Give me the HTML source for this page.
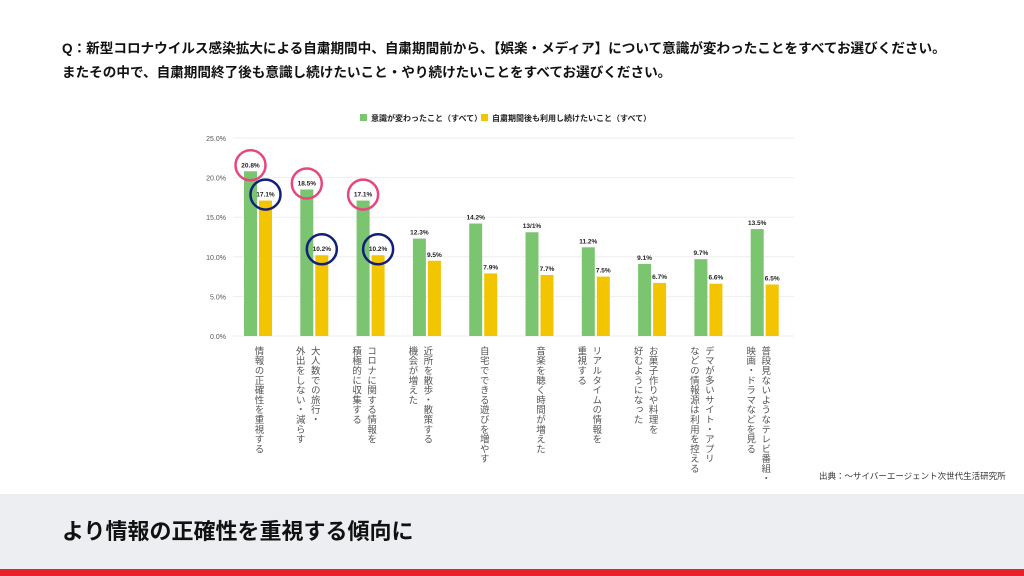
<!DOCTYPE html>
<html><head><meta charset="utf-8">
<style>
body{margin:0;width:1024px;height:576px;overflow:hidden;background:#fff;font-family:"Liberation Sans","Noto Sans CJK JP",sans-serif;position:relative}
.q{position:absolute;left:62px;top:37px;font-size:13.6px;font-weight:bold;line-height:24px;color:#111;white-space:nowrap}
.band{position:absolute;left:0;top:494px;width:1024px;height:75px;background:#eceef1}
.red{position:absolute;left:0;top:569px;width:1024px;height:7px;background:#e8202a}
.big{position:absolute;left:62px;top:514px;font-size:22px;font-weight:bold;color:#111}
.src{position:absolute;left:819px;top:470px;font-size:8.5px;color:#333}
svg{position:absolute;left:0;top:0}
</style></head><body>
<div class="q">Q：新型コロナウイルス感染拡大による自粛期間中、自粛期間前から、【娯楽・メディア】について意識が変わったことをすべてお選びください。<br>またその中で、自粛期間終了後も意識し続けたいこと・やり続けたいことをすべてお選びください。</div>
<svg id="chart" width="1024" height="576"></svg>
<div class="src">出典：〜サイバーエージェント次世代生活研究所</div>
<div class="band"></div>
<div class="big">より情報の正確性を重視する傾向に</div>
<div class="red"></div>
<script>
const categories=[["情報の正確性を重視する"],["大人数での旅行・","外出をしない・減らす"],["コロナに関する情報を","積極的に収集する"],["近所を散歩・散策する","機会が増えた"],["自宅でできる遊びを増やす"],["音楽を聴く時間が増えた"],["リアルタイムの情報を","重視する"],["お菓子作りや料理を","好むようになった"],["デマが多いサイト・アプリ","などの情報源は利用を控える"],["普段見ないようなテレビ番組・","映画・ドラマなどを見る"]];
const changed=[20.8,18.5,17.1,12.3,14.2,13.1,11.2,9.1,9.7,13.5];
const changedLabels=["20.8%","18.5%","17.1%","12.3%","14.2%","13/1%","11.2%","9.1%","9.7%","13.5%"];
const cont=[17.1,10.2,10.2,9.5,7.9,7.7,7.5,6.7,6.6,6.5];
const contLabels=["17.1%","10.2%","10.2%","9.5%","7.9%","7.7%","7.5%","6.7%","6.6%","6.5%"];
const ticks=[0,5,10,15,20,25];
const highlightGroups=[0,1,2];
const svg=document.getElementById('chart');
const NS='http://www.w3.org/2000/svg';
const y0=336,yTop=138,x0=233,x1=794;
const y=v=>y0-(v/25)*(y0-yTop);
const gx=i=>258+i*56.3;
function mk(t,a){const e=document.createElementNS(NS,t);for(const k in a)e.setAttribute(k,a[k]);svg.appendChild(e);return e;}
ticks.forEach(t=>{
 const l=mk('line',{x1:x0,x2:x1,y1:y(t),y2:y(t),stroke:'#eeeeee','stroke-width':1});
 
 
 const tx=mk('text',{x:226,y:y(t)+3,'font-size':7,'text-anchor':'end',fill:'#555'});
 tx.textContent=t.toFixed(1)+'%';
 
 
});
let r=mk('rect',{x:360,y:114,width:7,height:7,fill:'#7bc470'});


let lt=mk('text',{x:371,y:121,'font-size':8,'font-weight':'bold',fill:'#222'});lt.textContent='意識が変わったこと（すべて）';


r=mk('rect',{x:481,y:114,width:7,height:7,fill:'#f2c500'});


lt=mk('text',{x:492,y:121,'font-size':8,'font-weight':'bold',fill:'#222'});lt.textContent='自粛期間後も利用し続けたいこと（すべて）';


categories.forEach((c,i)=>{
 const cx=gx(i);
 const g=mk('rect',{x:cx-14,y:y(changed[i]),width:13,height:y0-y(changed[i]),fill:'#7bc470'});
 
 
 const b=mk('rect',{x:cx+1,y:y(cont[i]),width:13,height:y0-y(cont[i]),fill:'#f2c500'});
 
 
 let t=mk('text',{x:cx-7.5,y:y(changed[i])-4,'font-size':6.5,'font-weight':'bold','text-anchor':'middle',fill:'#222'});
 t.textContent=changedLabels[i];
 
 
 t=mk('text',{x:cx+7.5,y:y(cont[i])-4,'font-size':6.5,'font-weight':'bold','text-anchor':'middle',fill:'#222'});
 t.textContent=contLabels[i];
 
 
 c.forEach((line,j)=>{
  const lx=c.length===1?cx:cx-j*15;
  const tt=mk('text',{x:lx,y:346,'font-size':9.5,fill:'#555','letter-spacing':'0.3',style:'writing-mode:vertical-rl'});
  tt.textContent=line;
  
  
 });
});
highlightGroups.forEach(i=>{
 const cx=gx(i);
 let c=mk('circle',{cx:cx-7.5,cy:y(changed[i])-6,r:15,fill:'none',stroke:'#e8467c','stroke-width':2.5});
 
 
 c=mk('circle',{cx:cx+7.5,cy:y(cont[i])-6,r:15,fill:'none',stroke:'#10207a','stroke-width':2.5});
 
 
});
</script>
</body></html>
